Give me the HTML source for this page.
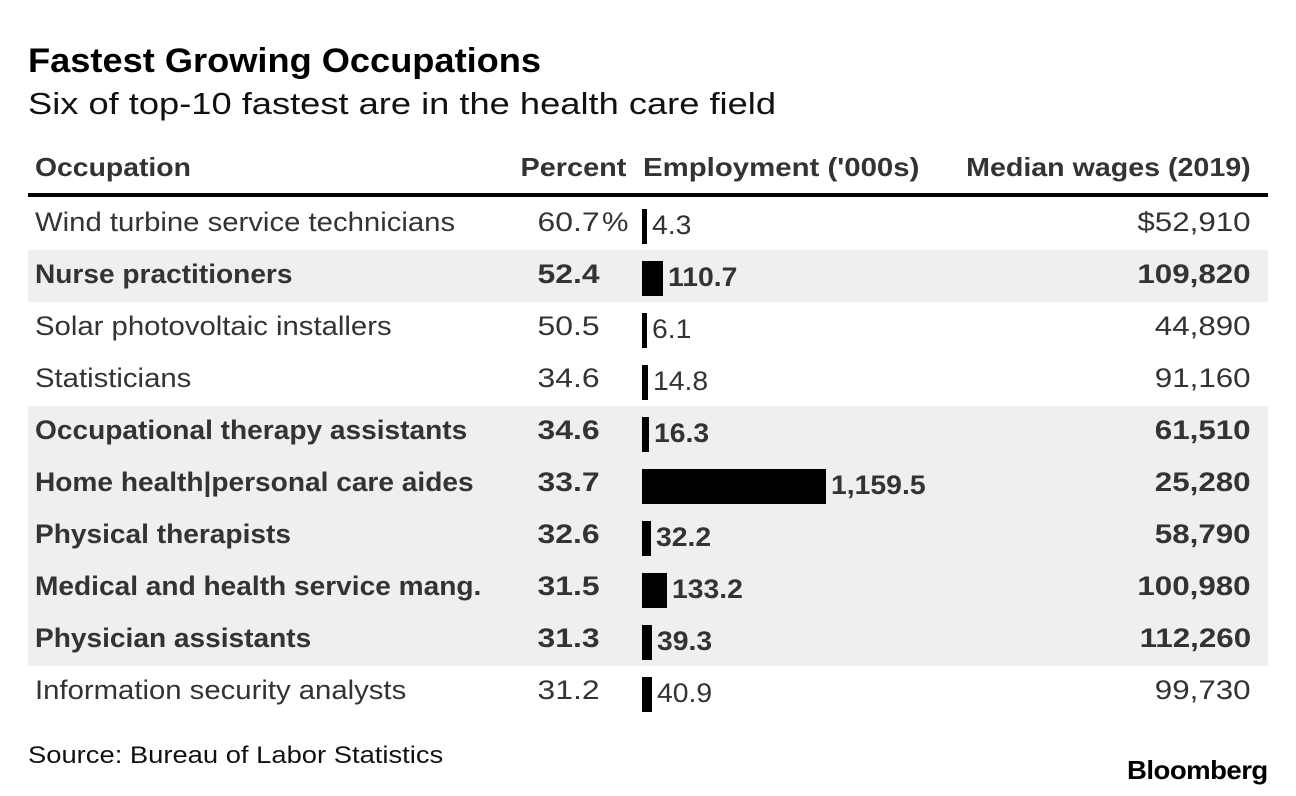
<!DOCTYPE html>
<html><head><meta charset="utf-8"><style>
body{margin:0;background:#fff;width:1296px;height:796px;overflow:hidden;font-family:"Liberation Sans",Arial,sans-serif;position:relative;color:#333}
.a{position:absolute;white-space:nowrap}
.l{transform-origin:left center}
.r{transform-origin:right center}
</style></head><body>
<div class="a l" style="left:28px;top:42px;font-size:34px;font-weight:bold;color:#000;transform:scaleX(1.065)">Fastest Growing Occupations</div>
<div class="a l" style="left:28px;top:86px;font-size:31px;color:#111;transform:scaleX(1.17)">Six of top-10 fastest are in the health care field</div>
<div class="a l" style="left:35px;top:152px;font-size:26px;font-weight:bold;transform:scaleX(1.09)">Occupation</div>
<div class="a r" style="right:670px;top:152px;font-size:26px;font-weight:bold;transform:scaleX(1.11)">Percent</div>
<div class="a l" style="left:643px;top:152px;font-size:26px;font-weight:bold;transform:scaleX(1.13)">Employment ('000s)</div>
<div class="a r" style="right:45px;top:152px;font-size:26px;font-weight:bold;transform:scaleX(1.1)">Median wages (2019)</div>
<div class="a" style="left:28px;top:193px;width:1240px;height:4px;background:#000"></div>
<div id="rows"></div>
<div class="a l" style="left:28px;top:742px;font-size:24px;color:#111;transform:scaleX(1.14)">Source: Bureau of Labor Statistics</div>
<div class="a r" style="right:28px;top:755px;font-size:26px;font-weight:bold;color:#000;letter-spacing:-0.5px;transform:scaleX(1.06)">Bloomberg</div>
<script>
const occupations=["Wind turbine service technicians","Nurse practitioners","Solar photovoltaic installers","Statisticians","Occupational therapy assistants","Home health|personal care aides","Physical therapists","Medical and health service mang.","Physician assistants","Information security analysts"];
const percents=[60.7,52.4,50.5,34.6,34.6,33.7,32.6,31.5,31.3,31.2];
const employment=[4.3,110.7,6.1,14.8,16.3,1159.5,32.2,133.2,39.3,40.9];
const wages=[52910,109820,44890,91160,61510,25280,58790,100980,112260,99730];
const health=[false,true,false,false,true,true,true,true,true,false];
const root=document.getElementById('rows');
const x0=642, k=180/1159.5;
function bw(v){return 4+v*k;}
occupations.forEach((name,i)=>{
  const top=198+52*i, b=health[i];
  const row=document.createElement('div');
  
  
  row.className='a';
  row.style.cssText=`left:28px;top:${top}px;width:1240px;height:52px;background:${b?'#efefef':'#fff'};font-weight:${b?'bold':'normal'};font-size:27px;`;
  root.appendChild(row);
  const t=(txt,css,nm,cls)=>{const d=document.createElement('div');d.className='a '+cls;d.textContent=txt;d.style.cssText=css;
    
    
    row.appendChild(d);return d;};
  t(name,`left:7px;top:9px;transform:scaleX(${b?1.04:1.085});`,'occupation-label','l');
  t(percents[i].toFixed(1),'right:668px;top:9px;transform:scaleX(1.18);','percent-value','r');
  if(i===0) t('%','left:574px;top:9px;transform:scaleX(1.1);','percent-sign','l');
  const w=bw(employment[i]);
  const bar=document.createElement('div');bar.className='a';
  
  
  bar.style.cssText=`left:${x0-28}px;top:11px;width:${w}px;height:35px;background:#000;`;
  row.appendChild(bar);
  t(employment[i].toLocaleString('en-US',{minimumFractionDigits:1,maximumFractionDigits:1}),`left:${x0-28+w+5}px;top:12px;transform:scaleX(1.05);`,'employment-value','l');
  t((i===0?'$':'')+wages[i].toLocaleString('en-US'),'right:17px;top:9px;transform:scaleX(1.16);','wage-value','r');
});
</script>
</body></html>
